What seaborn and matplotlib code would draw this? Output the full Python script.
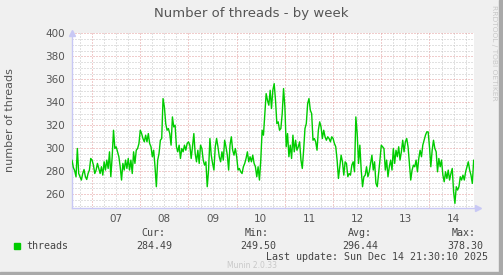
import numpy as np
import pandas as pd
import matplotlib
matplotlib.use("Agg")
import matplotlib.pyplot as plt
import matplotlib.dates as mdates
from matplotlib.ticker import MultipleLocator, NullFormatter
from matplotlib.patches import Rectangle
import seaborn as sns

# ---------------- data ----------------
start_time = "2025-12-06 14:00"
step = "40min"

seg_1 = [289.6, 283.2, 280.3, 275.1, 299.7, 277.9, 275.1, 272.2, 277.9, 281.4,
         275.1, 272.7, 277.9, 280.9, 291.0, 289.6, 285.2, 277.9, 280.9, 286.7,
         282.3, 277.9, 283.8, 276.5, 288.1, 280.9, 289.6, 282.3, 296.8, 275.1,
         292.5, 315.6, 299.7, 301.2, 296.8, 292.5, 283.8, 272.2, 286.7, 280.9,
         289.6, 282.3, 291.0, 280.9, 289.6, 277.9, 296.8, 286.7, 298.2, 299.7,
         304.0, 315.6, 312.7, 308.4, 305.5, 311.3, 305.5, 312.7, 304.0, 301.2,
         292.5, 298.2, 283.8, 266.4, 289.6, 295.3, 306.9, 308.4, 343.2, 335.9,
         321.4, 315.6, 317.1, 312.7, 302.6, 327.2, 318.5, 320.0]
seg_2 = [301.2, 296.8, 302.6, 291.0, 299.7, 296.8, 302.6, 298.2, 304.0, 305.5,
         302.6, 291.0, 301.2, 312.7, 295.3, 288.1, 298.2, 286.7, 302.6, 299.7,
         289.6, 285.2, 288.1, 266.4, 280.9, 308.4, 293.9, 286.7, 280.9, 301.2,
         308.4, 301.2, 292.5, 288.1, 296.8, 289.6, 306.9, 301.2, 293.9, 280.9,
         302.6, 309.9, 298.2, 293.9, 299.7, 292.5, 280.9, 282.3, 279.4, 277.9,
         283.8, 286.7, 291.0, 296.8, 288.1, 292.5, 288.1, 293.9, 286.7, 283.8,
         275.1, 283.8, 272.2, 289.6, 315.6, 311.3, 330.1, 347.5, 341.7, 337.4,
         350.4, 334.5, 350.4, 356.2, 341.7]
seg_3 = [321.4, 322.9, 315.6, 317.1, 330.1, 351.9, 335.9, 301.2, 312.7, 292.5,
         302.6, 291.0, 311.3, 296.8, 306.9, 298.2, 301.2, 305.5, 289.6, 282.3,
         298.2, 317.1, 321.4, 338.8, 343.2, 333.0, 330.1, 306.9, 308.4, 305.5,
         298.2, 315.6, 322.9, 318.5, 308.4, 315.6, 309.9, 306.9, 309.9, 308.4,
         305.5, 309.9, 308.4, 304.0, 301.2, 289.6, 273.6, 283.8, 293.9, 288.1,
         276.5, 288.1, 286.7, 275.1, 277.9, 276.5, 285.2, 288.1, 279.4, 327.2,
         312.7, 286.7, 302.6, 280.9, 266.4, 275.1, 276.5, 283.8, 275.1, 279.4,
         286.7, 293.9, 280.9, 288.1, 269.3]
seg_4 = [266.4, 277.9, 289.6, 302.6, 301.2, 299.7, 280.9, 289.6, 275.1, 283.8,
         289.6, 280.9, 299.7, 286.7, 298.2, 292.5, 301.2, 289.6, 296.8, 306.9,
         296.8, 305.5, 308.4, 301.2, 286.7, 272.2, 280.9, 285.2, 283.8, 289.6,
         279.4, 291.0, 298.2, 292.5, 302.6, 306.9, 311.3, 314.2, 314.2, 301.2,
         283.8, 298.2, 306.9, 299.7, 296.8, 279.4, 291.0, 283.8, 289.6, 276.5,
         270.7, 279.4, 273.6, 280.9, 272.2, 277.9, 282.3, 262.0, 251.9, 266.4,
         263.5, 266.4, 275.1, 272.2, 276.5, 272.2, 279.4, 283.8, 288.1, 280.9,
         276.5, 269.3, 289.6]
threads = seg_1 + seg_2 + seg_3 + seg_4

day_labels = ["07", "08", "09", "10", "11", "12", "13", "14"]
y_ticks = [260, 280, 300, 320, 340, 360, 380, 400]
stat_names = ["Cur:", "Min:", "Avg:", "Max:"]
stat_values = ["284.49", "249.50", "296.44", "378.30"]
series_name = "threads"
title = "Number of threads - by week"
y_label = "number of threads"
last_update = "Last update: Sun Dec 14 21:30:10 2025"

times = pd.date_range(start_time, periods=len(threads), freq=step)
df = pd.DataFrame({"time": times, "threads": threads})

# ---------------- figure ----------------
sns.set_style("white")
plt.rcParams["font.family"] = ["DejaVu Sans"]

W, H = 503, 275
fig = plt.figure(figsize=(W / 100, H / 100), dpi=100, facecolor="#F0F0F0")

# frame
fig.patches.append(Rectangle((0, 0), 1, 3 / H, transform=fig.transFigure,
                             color="#a9a9a9", zorder=0))
fig.patches.append(Rectangle((1 - 4 / W, 0), 4 / W, 1, transform=fig.transFigure,
                             color="#a9a9a9", zorder=0))

L, R, T, B = 72, 474, 33, 208.3
ax = fig.add_axes([L / W, 1 - B / H, (R - L) / W, (B - T) / H])
ax.set_facecolor("white")

sns.lineplot(data=df, x="time", y="threads", ax=ax, color="#00CC00",
             linewidth=1.0, zorder=3, legend=False)

x0 = pd.Timestamp("2025-12-06 14:00")
x1 = x0 + pd.Timedelta(days=(R - L) / 48.2)
ax.set_xlim(x0, x1)
ax.set_ylim(247.6, 400.3)

mgrid = "#e39a9a"
grid = "#c4c4c4"
dot = (0, (1, 2))
# x grid
ax.xaxis.set_major_locator(mdates.DayLocator())
ax.xaxis.set_major_formatter(NullFormatter())
ax.xaxis.set_minor_locator(mdates.HourLocator(byhour=[6, 12, 18]))
ax.grid(which="major", axis="both", color=mgrid, linestyle=dot, linewidth=0.72)
ax.grid(which="minor", axis="both", color=grid, linestyle=dot, linewidth=0.72)
ax.tick_params(axis="x", which="major", length=3, direction="inout", color=mgrid, width=0.8)
ax.tick_params(axis="x", which="minor", length=2, direction="inout", color=grid, width=0.8)

# y
ax.set_yticks(y_ticks)
ax.yaxis.set_minor_locator(MultipleLocator(5))
ax.tick_params(axis="y", which="major", length=0, pad=5, labelsize=7.5, labelcolor="#555555")
ax.tick_params(axis="y", which="minor", length=0)
ax.set_axisbelow(True)
ax.set_xlabel("")
ax.set_ylabel("")

# day labels at noon
sec = ax.secondary_xaxis("bottom")
noons = [pd.Timestamp(f"2025-12-{d} 12:00") for d in day_labels]
sec.set_xticks(mdates.date2num(noons))
sec.set_xticklabels(day_labels)
sec.tick_params(length=0, pad=4, labelsize=7.5, labelcolor="#555555")
sec.spines["bottom"].set_visible(False)

for s in ["top", "right"]:
    ax.spines[s].set_visible(False)
axis_c = "#c8c8f5"
ax.spines["left"].set_color(axis_c)
ax.spines["bottom"].set_color(axis_c)
ax.spines["left"].set_linewidth(1)
ax.spines["bottom"].set_linewidth(1)
ax.spines["bottom"].set_bounds(mdates.date2num(x0), mdates.date2num(x1) + 0.05)
ax.plot([0], [1.0], marker="^", markersize=4, color=axis_c, transform=ax.transAxes,
        clip_on=False, zorder=5)
ax.plot([1.01], [0], marker=">", markersize=4, color=axis_c, transform=ax.transAxes,
        clip_on=False, zorder=5)

# texts
def fx(px):
    return px / W

def fy(py):
    return 1 - py / H

fig.text(fx(251), fy(13), title, ha="center", va="center", fontsize=9.5, color="#555555")
fig.text(fx(10), fy(120), y_label, ha="center", va="center", rotation=90,
         fontsize=8, color="#555555")
fig.text(fx(494), fy(5), "RRDTOOL / TOBI OETIKER", ha="center", va="top",
         rotation=270, fontsize=5.4, color="#c8c8c8")

mono = "DejaVu Sans Mono"
fig.patches.append(Rectangle((fx(14), fy(248.5)), 6 / W, 6 / H, transform=fig.transFigure,
                             color="#00CC00"))
fig.text(fx(26), fy(245.7), series_name, ha="left", va="center", family=mono,
         fontsize=7.2, color="#444444")
name_right = [165, 269, 372, 476]
val_right = [172, 276, 378, 483]
for n, v, nr, vr in zip(stat_names, stat_values, name_right, val_right):
    fig.text(fx(nr), fy(233.3), n, ha="right", va="center", family=mono,
             fontsize=7.2, color="#444444")
    fig.text(fx(vr), fy(245.7), v, ha="right", va="center", family=mono,
             fontsize=7.2, color="#444444")
fig.text(fx(488), fy(257.3), last_update, ha="right", va="center", family=mono,
         fontsize=7.2, color="#444444")
fig.text(fx(252), fy(265), "Munin 2.0.33", ha="center", va="center",
         fontsize=5.5, color="#c8c8c8")

fig.savefig("out.png", dpi=100, facecolor=fig.get_facecolor())
